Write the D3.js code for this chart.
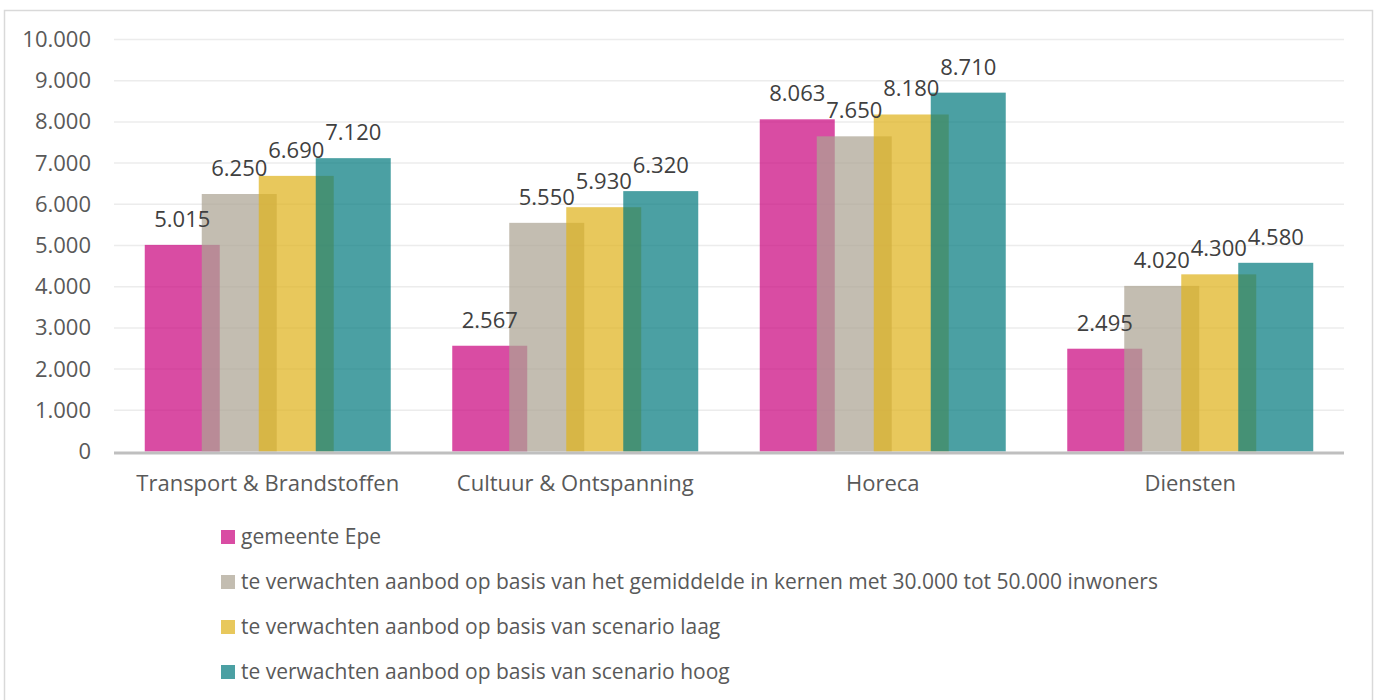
<!DOCTYPE html>
<html>
<head>
<meta charset="utf-8">
<script src="https://cdn.jsdelivr.net/npm/d3@7"></script>
<style>
  html, body { margin: 0; padding: 0; background: #fff; }
  svg { display: block; font-family: "Open Sans", sans-serif; }
</style>
</head>
<body>
<svg id="chart" width="1376" height="700"></svg>
<script>
// Categories (x axis)
const categories = ["Transport & Brandstoffen", "Cultuur & Ontspanning", "Horeca", "Diensten"];

// Series names (legend)
const seriesNames = [
  "gemeente Epe",
  "te verwachten aanbod op basis van het gemiddelde in kernen met 30.000 tot 50.000 inwoners",
  "te verwachten aanbod op basis van scenario laag",
  "te verwachten aanbod op basis van scenario hoog"
];

// Series values, one array per series, in category order
const gemeenteEpe   = [5015, 2567, 8063, 2495];
const gemiddelde    = [6250, 5550, 7650, 4020];
const scenarioLaag  = [6690, 5930, 8180, 4300];
const scenarioHoog  = [7120, 6320, 8710, 4580];

// Y axis ticks
const yTicks = [0, 1000, 2000, 3000, 4000, 5000, 6000, 7000, 8000, 9000, 10000];

const seriesValues = [gemeenteEpe, gemiddelde, scenarioLaag, scenarioHoog];
const seriesColors = ["#cb077f", "#aca493", "#dfb31d", "#057b7f"];
const barOpacity = 0.72;

const nl = d3.formatLocale({ decimal: ",", thousands: ".", grouping: [3], currency: ["€", ""] });
const fmt = nl.format(",.0f");

const svg = d3.select("#chart");

// Outer chart border
svg.append("rect")
  .attr("x", 4.5).attr("y", 10.5)
  .attr("width", 1368).attr("height", 700)
  .attr("fill", "#fff")
  .attr("stroke", "#d9d9d9").attr("stroke-width", 1.5);

const plot = { left: 114, right: 1344, top: 39.5, bottom: 451.5 };

const x = d3.scaleBand().domain(categories).range([plot.left, plot.right]).padding(0);
const y = d3.scaleLinear().domain([0, 10000]).range([plot.bottom, plot.top]);

// Bar geometry inside a category: overlapping bars, gap on both sides
const gapWidth = 0.82, overlap = 0.24;
const bw = x.bandwidth();
const barW = bw / (seriesNames.length - (seriesNames.length - 1) * overlap + gapWidth);
const step = barW * (1 - overlap);
const groupW = barW + step * (seriesNames.length - 1);
const xSub = d3.scaleLinear().domain([0, seriesNames.length - 1])
  .range([(bw - groupW) / 2, (bw - groupW) / 2 + step * (seriesNames.length - 1)]);

// Gridlines
svg.append("g")
  .selectAll("line")
  .data(yTicks.filter(t => t > 0))
  .join("line")
  .attr("x1", plot.left).attr("x2", plot.right)
  .attr("y1", d => y(d)).attr("y2", d => y(d))
  .attr("stroke", "#ececec").attr("stroke-width", 1.5);

// Y axis labels
const yAxis = d3.axisLeft(y).tickValues(yTicks).tickFormat(fmt).tickSize(0).tickPadding(0);
const yg = svg.append("g").attr("transform", `translate(${plot.left - 23},0)`).call(yAxis);
yg.select(".domain").remove();
yg.selectAll("text")
  .attr("fill", "#595959")
  .style("font-size", "22px")
  .style("font-family", "'Open Sans', sans-serif");

// Bars
seriesValues.forEach((vals, si) => {
  svg.append("g")
    .selectAll("rect")
    .data(categories.map((c, ci) => ({ c, v: vals[ci] })))
    .join("rect")
    .attr("x", d => x(d.c) + xSub(si))
    .attr("y", d => y(d.v))
    .attr("width", barW)
    .attr("height", d => y(0) - y(d.v))
    .attr("fill", seriesColors[si])
    .attr("fill-opacity", barOpacity);
});

// X axis baseline
svg.append("line")
  .attr("x1", plot.left).attr("x2", plot.right)
  .attr("y1", plot.bottom + 1.5).attr("y2", plot.bottom + 1.5)
  .attr("stroke", "#bfbfbf").attr("stroke-width", 3);

// X axis labels
const xAxis = d3.axisBottom(x).tickSize(0).tickPadding(0);
const xg = svg.append("g").attr("transform", `translate(0,${plot.bottom + 39})`).call(xAxis);
xg.select(".domain").remove();
xg.selectAll("text")
  .attr("dy", 0)
  .attr("fill", "#595959")
  .style("font-size", "22px")
  .style("font-family", "'Open Sans', sans-serif");

// Data labels
seriesValues.forEach((vals, si) => {
  svg.append("g")
    .selectAll("text")
    .data(categories.map((c, ci) => ({ c, v: vals[ci] })))
    .join("text")
    .attr("x", d => x(d.c) + xSub(si) + barW / 2)
    .attr("y", d => y(d.v) - 18)
    .attr("text-anchor", "middle")
    .attr("fill", "#404040")
    .style("font-size", "22px")
    .text(d => fmt(d.v));
});

// Legend
const legend = svg.append("g").attr("transform", "translate(221,537)");
const rows = legend.selectAll("g")
  .data(seriesNames)
  .join("g")
  .attr("transform", (d, i) => `translate(0,${i * 45})`);
rows.append("rect")
  .attr("x", 0).attr("y", -7).attr("width", 14).attr("height", 14)
  .attr("fill", (d, i) => seriesColors[i])
  .attr("fill-opacity", barOpacity);
rows.append("text")
  .attr("x", 20).attr("y", 0).attr("dy", "0.35em")
  .attr("fill", "#595959")
  .style("font-size", "21px")
  .text(d => d);
</script>
</body>
</html>
